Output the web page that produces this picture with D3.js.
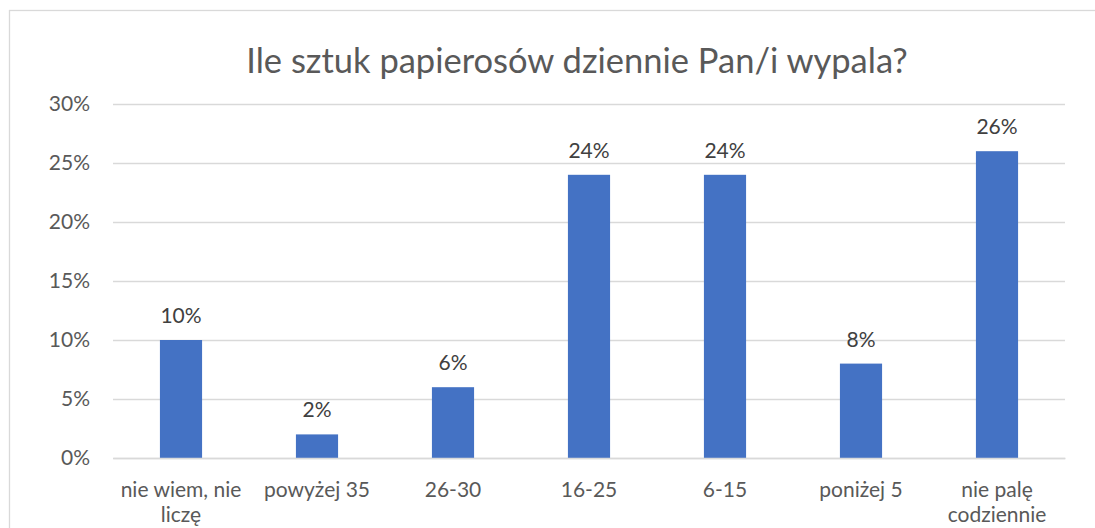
<!DOCTYPE html>
<html><head><meta charset="utf-8">
<script src="https://cdn.jsdelivr.net/npm/d3@7"></script>
<style>body{margin:0;background:#fff;} svg{display:block;font-family:Lato,"Open Sans",sans-serif;}</style>
</head><body><svg id="c" width="1095" height="528"></svg>
<script>
const categories = ["nie wiem, nie liczę","powyżej 35","26-30","16-25","6-15","poniżej 5","nie palę codziennie"];
const values = [10, 2, 6, 24, 24, 8, 26];
const yTicks = [0,5,10,15,20,25,30];
const title = "Ile sztuk papierosów dziennie Pan/i wypala?";

const svg = d3.select("#c");
const m={left:113,right:1065,top:104,bottom:458};
svg.append("rect").attr("x",9.5).attr("y",10.5).attr("width",1200).attr("height",600)
  .attr("fill","#fff").attr("stroke","#d9d9d9").attr("stroke-width",1.3);

const x=d3.scaleBand().domain(categories).range([m.left,m.right]).paddingInner(0.69).paddingOuter(0.345);
const y=d3.scaleLinear().domain([0,30]).range([m.bottom,m.top]);

svg.append("text").attr("x",577).attr("y",73).attr("text-anchor","middle")
  .attr("font-size",34.5).attr("fill","#595959").text(title);

const ya=svg.append("g").attr("transform",`translate(${m.left},0)`)
  .call(d3.axisLeft(y).tickValues(yTicks).tickFormat(d=>d+"%").tickSize(-(m.right-m.left)).tickPadding(23));
ya.select(".domain").remove();
ya.selectAll(".tick line").attr("stroke","#d9d9d9").attr("stroke-width",1.3);
ya.selectAll(".tick text").attr("font-size",21).attr("fill","#595959").attr("font-family","Lato,'Open Sans',sans-serif");

svg.append("g").selectAll("rect").data(values).join("rect")
  .attr("x",(d,i)=>x(categories[i])).attr("width",x.bandwidth())
  .attr("y",d=>y(d)).attr("height",d=>y(0)-y(d)).attr("fill","#4472C4");

svg.append("g").selectAll("text").data(values).join("text")
  .attr("x",(d,i)=>x(categories[i])+x.bandwidth()/2).attr("y",d=>y(d)-17)
  .attr("text-anchor","middle").attr("font-size",21).attr("fill","#404040").text(d=>d+"%");

const xa=svg.append("g").attr("transform",`translate(0,${m.bottom})`)
  .call(d3.axisBottom(x).tickSize(0).tickPadding(0));
xa.select(".domain").attr("stroke","#d9d9d9").attr("stroke-width",1.3);
xa.selectAll(".tick text").each(function(d){
  const t=d3.select(this); t.text(null).attr("font-size",21).attr("fill","#595959").attr("dy",null)
    .attr("font-family","Lato,'Open Sans',sans-serif");
  const words=d.split(" "); let lines=[]; let cur=[];
  const maxW=x.step()-4;
  const tmp=t.append("tspan");
  words.forEach(w=>{cur.push(w); tmp.text(cur.join(" "));
    if(tmp.node().getComputedTextLength()>maxW && cur.length>1){cur.pop(); lines.push(cur.join(" ")); cur=[w];}});
  lines.push(cur.join(" ")); tmp.remove();
  lines.forEach((l,i)=>t.append("tspan").attr("x",0).attr("y",39+i*25).text(l));
});
</script></body></html>
